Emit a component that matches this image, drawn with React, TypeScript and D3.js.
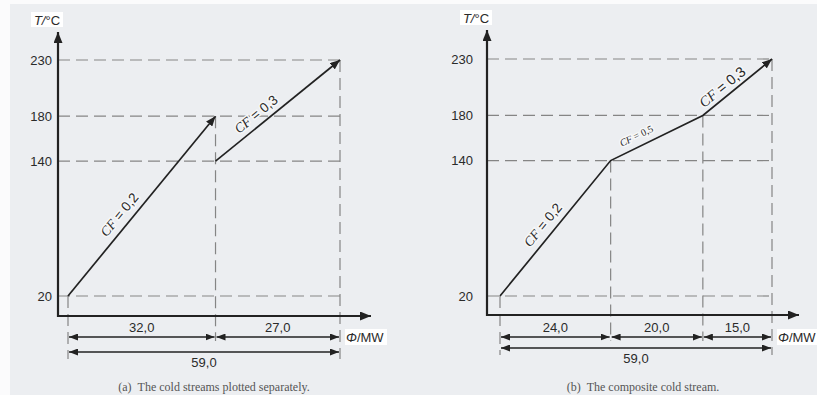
import * as d3 from "d3";
import { useEffect, useRef } from "react";

// temperature ticks (°C)
const tempTicks = [20, 140, 180, 230];

// (a) cold streams plotted separately
const separateCF = ["0,2", "0,3"];
const separateStart = [0, 32]; // heat load at start of each stream, MW
const separateEnd = [32, 59];
const separateTin = [20, 140];
const separateTout = [180, 230];
const separateDuties = [32.0, 27.0];

// (b) composite cold stream
const compositeQ = [0, 24, 44, 59];
const compositeT = [20, 140, 180, 230];
const compositeCF = ["0,2", "0,5", "0,3"];
const compositeDuties = [24.0, 20.0, 15.0];

const totalDuty = 59.0;

const W = 817;
const H = 395;
const INK = "#222";
const DASH = "#858585";
const SANS = "'Liberation Sans', Arial, sans-serif";
const SERIF = "'Liberation Serif', 'Times New Roman', serif";

const fmt = (v: number) => d3.format(".1f")(v).replace(".", ",");

type Panel = {
  xr: [number, number];
  yr: [number, number];
  axisX: number;
  axisY: number;
  yTop: number;
  xEnd: number;
  row1: number;
  row2: number;
  tickPad: number;
  caption: string;
  captionX: number;
};

export default function App() {
  const ref = useRef<SVGSVGElement>(null);

  useEffect(() => {
    if (!ref.current) return;
    const svg = d3.select(ref.current);
    svg.selectAll("*").remove();

    const defs = svg.append("defs");
    const marker = (id: string, len: number, half: number) =>
      defs
        .append("marker")
        .attr("id", id)
        .attr("markerUnits", "userSpaceOnUse")
        .attr("viewBox", `0 ${-half} ${len} ${half * 2}`)
        .attr("refX", len)
        .attr("refY", 0)
        .attr("markerWidth", len)
        .attr("markerHeight", half * 2)
        .attr("orient", "auto-start-reverse")
        .append("path")
        .attr("d", `M0,${-half}L${len},0L0,${half}Z`)
        .attr("fill", INK);
    marker("head", 10, 4);
    marker("axhead", 11, 4.5);
    marker("dim", 9, 3.5);

    // paper
    svg.append("rect").attr("width", W).attr("height", H).attr("fill", "#fbfbfc");
    svg
      .append("rect")
      .attr("x", 10)
      .attr("y", 4)
      .attr("width", W - 10)
      .attr("height", H - 4)
      .attr("fill", "#eceef1");

    const drawPanel = (
      p: Panel,
      breaks: number[],
      topT: number[],
      duties: number[],
      lines: { q: number[]; t: number[]; cf: string; frac: number; off: number; fs: number }[][]
    ) => {
      const x = d3.scaleLinear().domain([0, totalDuty]).range(p.xr);
      const y = d3.scaleLinear().domain([20, 230]).range(p.yr);
      const g = svg.append("g");

      // horizontal guides
      g.selectAll("line.h")
        .data(tempTicks)
        .join("line")
        .attr("x1", p.axisX)
        .attr("x2", x(totalDuty))
        .attr("y1", (d) => y(d))
        .attr("y2", (d) => y(d))
        .attr("stroke", DASH)
        .attr("stroke-width", 1.2)
        .attr("stroke-dasharray", "12,6");

      // vertical guides
      g.selectAll("line.v")
        .data(breaks)
        .join("line")
        .attr("x1", (d) => x(d))
        .attr("x2", (d) => x(d))
        .attr("y1", (d, i) => y(topT[i]))
        .attr("y2", (d, i) => (i === 0 || i === breaks.length - 1 ? p.row2 + 7 : p.row1 + 4))
        .attr("stroke", DASH)
        .attr("stroke-width", 1.2)
        .attr("stroke-dasharray", "12,6");

      // axes
      g.append("line")
        .attr("x1", p.axisX)
        .attr("x2", p.axisX)
        .attr("y1", p.axisY + 1)
        .attr("y2", p.yTop)
        .attr("stroke", INK)
        .attr("stroke-width", 2.2)
        .attr("marker-end", "url(#axhead)");
      g.append("line")
        .attr("x1", p.axisX - 1)
        .attr("x2", p.xEnd)
        .attr("y1", p.axisY)
        .attr("y2", p.axisY)
        .attr("stroke", INK)
        .attr("stroke-width", 2.2)
        .attr("marker-end", "url(#axhead)");

      g.append("g")
        .attr("transform", `translate(${p.axisX},0)`)
        .call(d3.axisLeft(y).tickValues(tempTicks).tickSize(0).tickPadding(p.tickPad).tickFormat((v) => `${v}`))
        .call((a) => a.select(".domain").remove())
        .call((a) =>
          a.selectAll("text").attr("fill", "#2a2a2a").attr("font-size", 13).attr("font-family", SANS)
        );

      // axis titles
      const tt = g.append("g").attr("transform", `translate(${p.axisX - 11},${p.yTop - 12})`);
      tt.append("rect").attr("x", -16).attr("y", -8).attr("width", 32).attr("height", 15).attr("fill", "#fff");
      const tx = tt
        .append("text")
        .attr("text-anchor", "middle")
        .attr("dy", "0.35em")
        .attr("font-family", SANS)
        .attr("font-size", 13)
        .attr("fill", "#2a2a2a");
      tx.append("tspan").attr("font-style", "italic").text("T/");
      tx.append("tspan").text("°C");

      const qt = g.append("g").attr("transform", `translate(${x(totalDuty) + 6},${p.row1})`);
      qt.append("rect").attr("x", -1).attr("y", -8).attr("width", 42).attr("height", 16).attr("fill", "#fff");
      const qx = qt
        .append("text")
        .attr("dy", "0.35em")
        .attr("font-family", SANS)
        .attr("font-size", 13)
        .attr("fill", "#2a2a2a");
      qx.append("tspan").attr("font-style", "italic").text("Φ");
      qx.append("tspan").text("/MW");

      // dimension arrows
      const cum = [0, ...d3.cumsum(duties)];
      g.selectAll("line.d1")
        .data(duties)
        .join("line")
        .attr("x1", (d, i) => x(cum[i]) + 1)
        .attr("x2", (d, i) => x(cum[i + 1]) - 1)
        .attr("y1", p.row1)
        .attr("y2", p.row1)
        .attr("stroke", INK)
        .attr("stroke-width", 1.5)
        .attr("marker-start", "url(#dim)")
        .attr("marker-end", "url(#dim)");
      g.selectAll("text.d1")
        .data(duties)
        .join("text")
        .attr("x", (d, i) => x((cum[i] + cum[i + 1]) / 2))
        .attr("y", p.row1 - 5)
        .attr("text-anchor", "middle")
        .attr("font-family", SANS)
        .attr("font-size", 13)
        .attr("fill", "#2a2a2a")
        .text((d) => fmt(d));
      g.append("line")
        .attr("x1", x(0) + 1)
        .attr("x2", x(totalDuty) - 1)
        .attr("y1", p.row2)
        .attr("y2", p.row2)
        .attr("stroke", INK)
        .attr("stroke-width", 1.5)
        .attr("marker-start", "url(#dim)")
        .attr("marker-end", "url(#dim)");
      g.append("text")
        .attr("x", x(totalDuty / 2))
        .attr("y", p.row2 + 15)
        .attr("text-anchor", "middle")
        .attr("font-family", SANS)
        .attr("font-size", 13)
        .attr("fill", "#2a2a2a")
        .text(fmt(totalDuty));

      // stream lines
      const line = d3
        .line<[number, number]>()
        .x((d) => x(d[0]))
        .y((d) => y(d[1]));
      lines.forEach((segs) => {
        const pts = segs.flatMap((s, i) =>
          (i === 0 ? [0, 1] : [1]).map((k) => [s.q[k], s.t[k]] as [number, number])
        );
        g.append("path")
          .attr("d", line(pts))
          .attr("fill", "none")
          .attr("stroke", INK)
          .attr("stroke-width", 1.7)
          .attr("marker-end", "url(#head)");
        segs.forEach((s) => {
          const x0 = x(s.q[0]);
          const y0 = y(s.t[0]);
          const dx = x(s.q[1]) - x0;
          const dy = y(s.t[1]) - y0;
          const len = Math.hypot(dx, dy);
          const cx = x0 + dx * s.frac + (dy / len) * s.off;
          const cy = y0 + dy * s.frac - (dx / len) * s.off;
          const ang = (Math.atan2(dy, dx) * 180) / Math.PI;
          const lt = g
            .append("text")
            .attr("transform", `translate(${cx},${cy}) rotate(${ang})`)
            .attr("text-anchor", "middle")
            .attr("dy", "0.35em")
            .attr("font-family", s.fs < 12 ? SERIF : SANS)
            .attr("font-size", s.fs)
            .attr("fill", "#2a2a2a")
            .attr("paint-order", "stroke")
            .attr("stroke", "#f6f7f8")
            .attr("stroke-width", 3);
          lt.append("tspan").attr("font-family", SERIF).attr("font-style", "italic").text("CF");
          lt.append("tspan").text(` = ${s.cf}`);
        });
      });

      // caption
      g.append("text")
        .attr("x", p.captionX)
        .attr("y", 391)
        .attr("text-anchor", "middle")
        .attr("font-family", SERIF)
        .attr("font-size", 12)
        .attr("fill", "#555")
        .text(p.caption);
    };

    const labelA = [
      { frac: 0.41, off: 12, fs: 13.5 },
      { frac: 0.38, off: 11, fs: 13.5 },
    ];
    drawPanel(
      {
        xr: [68, 340],
        yr: [296, 60],
        axisX: 58,
        axisY: 316,
        yTop: 32,
        xEnd: 371,
        row1: 337,
        row2: 352,
        tickPad: 6,
        caption: "(a)\u00a0\u00a0The cold streams plotted separately.",
        captionX: 214,
      },
      [0, separateEnd[0], totalDuty],
      [20, separateTout[0], 230],
      separateDuties,
      separateCF.map((cf, i) => [
        {
          q: [separateStart[i], separateEnd[i]],
          t: [separateTin[i], separateTout[i]],
          cf,
          ...labelA[i],
        },
      ])
    );

    const labelB = [
      { frac: 0.47, off: 12, fs: 13.5 },
      { frac: 0.33, off: 11, fs: 10 },
      { frac: 0.37, off: 10, fs: 14.5 },
    ];
    drawPanel(
      {
        xr: [500, 772],
        yr: [296, 59],
        axisX: 487,
        axisY: 315,
        yTop: 30,
        xEnd: 799,
        row1: 337,
        row2: 348,
        tickPad: 14,
        caption: "(b)\u00a0\u00a0The composite cold stream.",
        captionX: 643,
      },
      compositeQ,
      compositeT,
      compositeDuties,
      [
        compositeCF.map((cf, i) => ({
          q: [compositeQ[i], compositeQ[i + 1]],
          t: [compositeT[i], compositeT[i + 1]],
          cf,
          ...labelB[i],
        })),
      ]
    );
  }, []);

  return (
    <svg
      ref={ref}
      width={W}
      height={H}
      style={{ position: "absolute", left: 0, top: 0, display: "block" }}
      role="img"
      aria-label="Cold stream temperature vs heat load"
    />
  );
}
